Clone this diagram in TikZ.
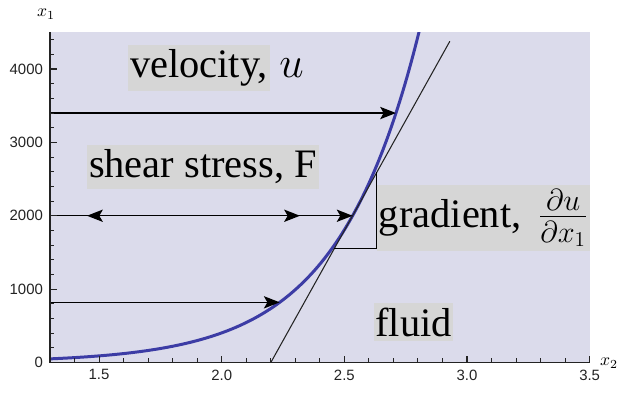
\documentclass[tikz,border=0pt]{standalone}
\usepackage{amsmath,amssymb}
\usepackage{fontspec}
\setmainfont{Liberation Serif}
\setsansfont{Liberation Sans}
\usepackage{tikz}
\usetikzlibrary{arrows.meta,positioning,calc}
\definecolor{plotlavender}{RGB}{219, 219, 235}
\definecolor{labelgray}{RGB}{214, 214, 214}
\definecolor{curveblue}{RGB}{60, 60, 165}
\definecolor{axisdark}{RGB}{35, 35, 35}

\tikzset{
  flowarrow/.style={-{Stealth[length=9pt,width=7pt,inset=2pt]}, line width=0.8pt},
  botharrow/.style={{Stealth[length=9pt,width=7pt,inset=2pt]}-{Stealth[length=9pt,width=7pt,inset=2pt]}, line width=0.8pt},
  textlabel/.style={fill=labelgray, inner xsep=1pt, inner ysep=2.5pt, font=\fontsize{23}{26}\selectfont},
  ticklabel/.style={font=\sffamily\fontsize{8.5}{10}\selectfont, text=axisdark, inner sep=1pt},
}

\begin{document}
\begin{tikzpicture}
    \useasboundingbox (0,0) rectangle (12.34,7.88);

  \begin{scope}[x=4.906cm, y=1.4674cm, shift={(-5.378cm,0.63cm)}]
    % Plot area
    \fill[plotlavender] (1.3,0) rectangle (3.5,4.5);

    % Velocity profile x1 = e^{3 x2}
    \begin{scope}
      \clip (1.3,0) rectangle (3.5,4.5);
      \draw[line width=1.7pt, color=curveblue] plot[domain=1.3:2.83, samples=120, smooth] (\x, {exp(3*\x)/1000});
    \end{scope}

    % Tangent at x1 = 2000
    \coordinate (T) at ({ln(2000)/3}, 2);
    \coordinate (tanlow) at (2.2003, 0);
    \coordinate (tanhigh) at (2.93, 4.378);
    \draw[line width=0.6pt, color=axisdark] (tanlow) -- (tanhigh);

    % Gradient triangle
    \coordinate (triA) at (2.4586, 1.55);
    \coordinate (triB) at (2.632, 1.55);
    \coordinate (triC) at (2.632, 2.5902);
    \draw[line width=0.7pt] (triA) -- (triB) -- (triC);

    % Arrows from the wall to the profile
    \coordinate (topwall) at (1.3, 3.4);
    \coordinate (topend) at ({ln(3400)/3}, 3.4);
    \draw[flowarrow] (topwall) -- (topend);

    \coordinate (midwall) at (1.3, 2);
    \draw[flowarrow] (midwall) -- (T);
    \coordinate (stressL) at (1.451, 2);
    \coordinate (stressR) at (2.319, 2);
    \draw[botharrow] (stressL) -- (stressR);

    \coordinate (lowwall) at (1.3, 0.82);
    \coordinate (lowend) at ({ln(820)/3}, 0.82);
    \draw[flowarrow] (lowwall) -- (lowend);

    % Ticks
    \foreach \i in {13,...,35}
      \draw[line width=0.6pt, color=axisdark] ({\i/10},0) -- ++(0,0.08cm);
    \foreach \v [count=\k] in {1.5,2.0,2.5,3.0,3.5} {
      \draw[line width=0.6pt, color=axisdark] (\v,0) -- ++(0,0.13cm);
      \node[ticklabel, below=0.1cm] (xtick\k) at (\v,0) {\v};
    }
    \foreach \i in {0,...,22}
      \draw[line width=0.6pt, color=axisdark] (1.3,{\i/5}) -- ++(0.08cm,0);
    \foreach \v/\t in {0/0,1/1000,2/2000,3/3000,4/4000} {
      \draw[line width=0.6pt, color=axisdark] (1.3,\v) -- ++(0.14cm,0);
      \node[ticklabel, left=0.1cm] (ytick\v) at (1.3,\v) {\t};
    }

    % Axes
    \draw[line width=0.8pt, color=axisdark] (1.3,4.5) -- (1.3,0) -- (3.5,0);
  \end{scope}

    % Axis names
    \node (xone) at (0.92,7.60) {$x_1$};
    \node (xtwo) at (12.18,0.62) {$x_2$};

    % Labels
    \node[textlabel] (velocity) at (3.98,6.52) {velocity,};
    \node[font=\fontsize{23}{26}\selectfont, inner sep=0pt, anchor=base west] (velsym) at ([xshift=0.18cm]velocity.base east) {$u$};
    \node[textlabel] (shear) at (4.06,4.54) {shear stress, F};
    \node[textlabel] (gradient) at (9.67,3.52) {gradient, \,$\frac{\partial u}{\partial x_1}$};
    \node[textlabel] (fluid) at (8.27,1.44) {fluid};
\end{tikzpicture}
\end{document}
